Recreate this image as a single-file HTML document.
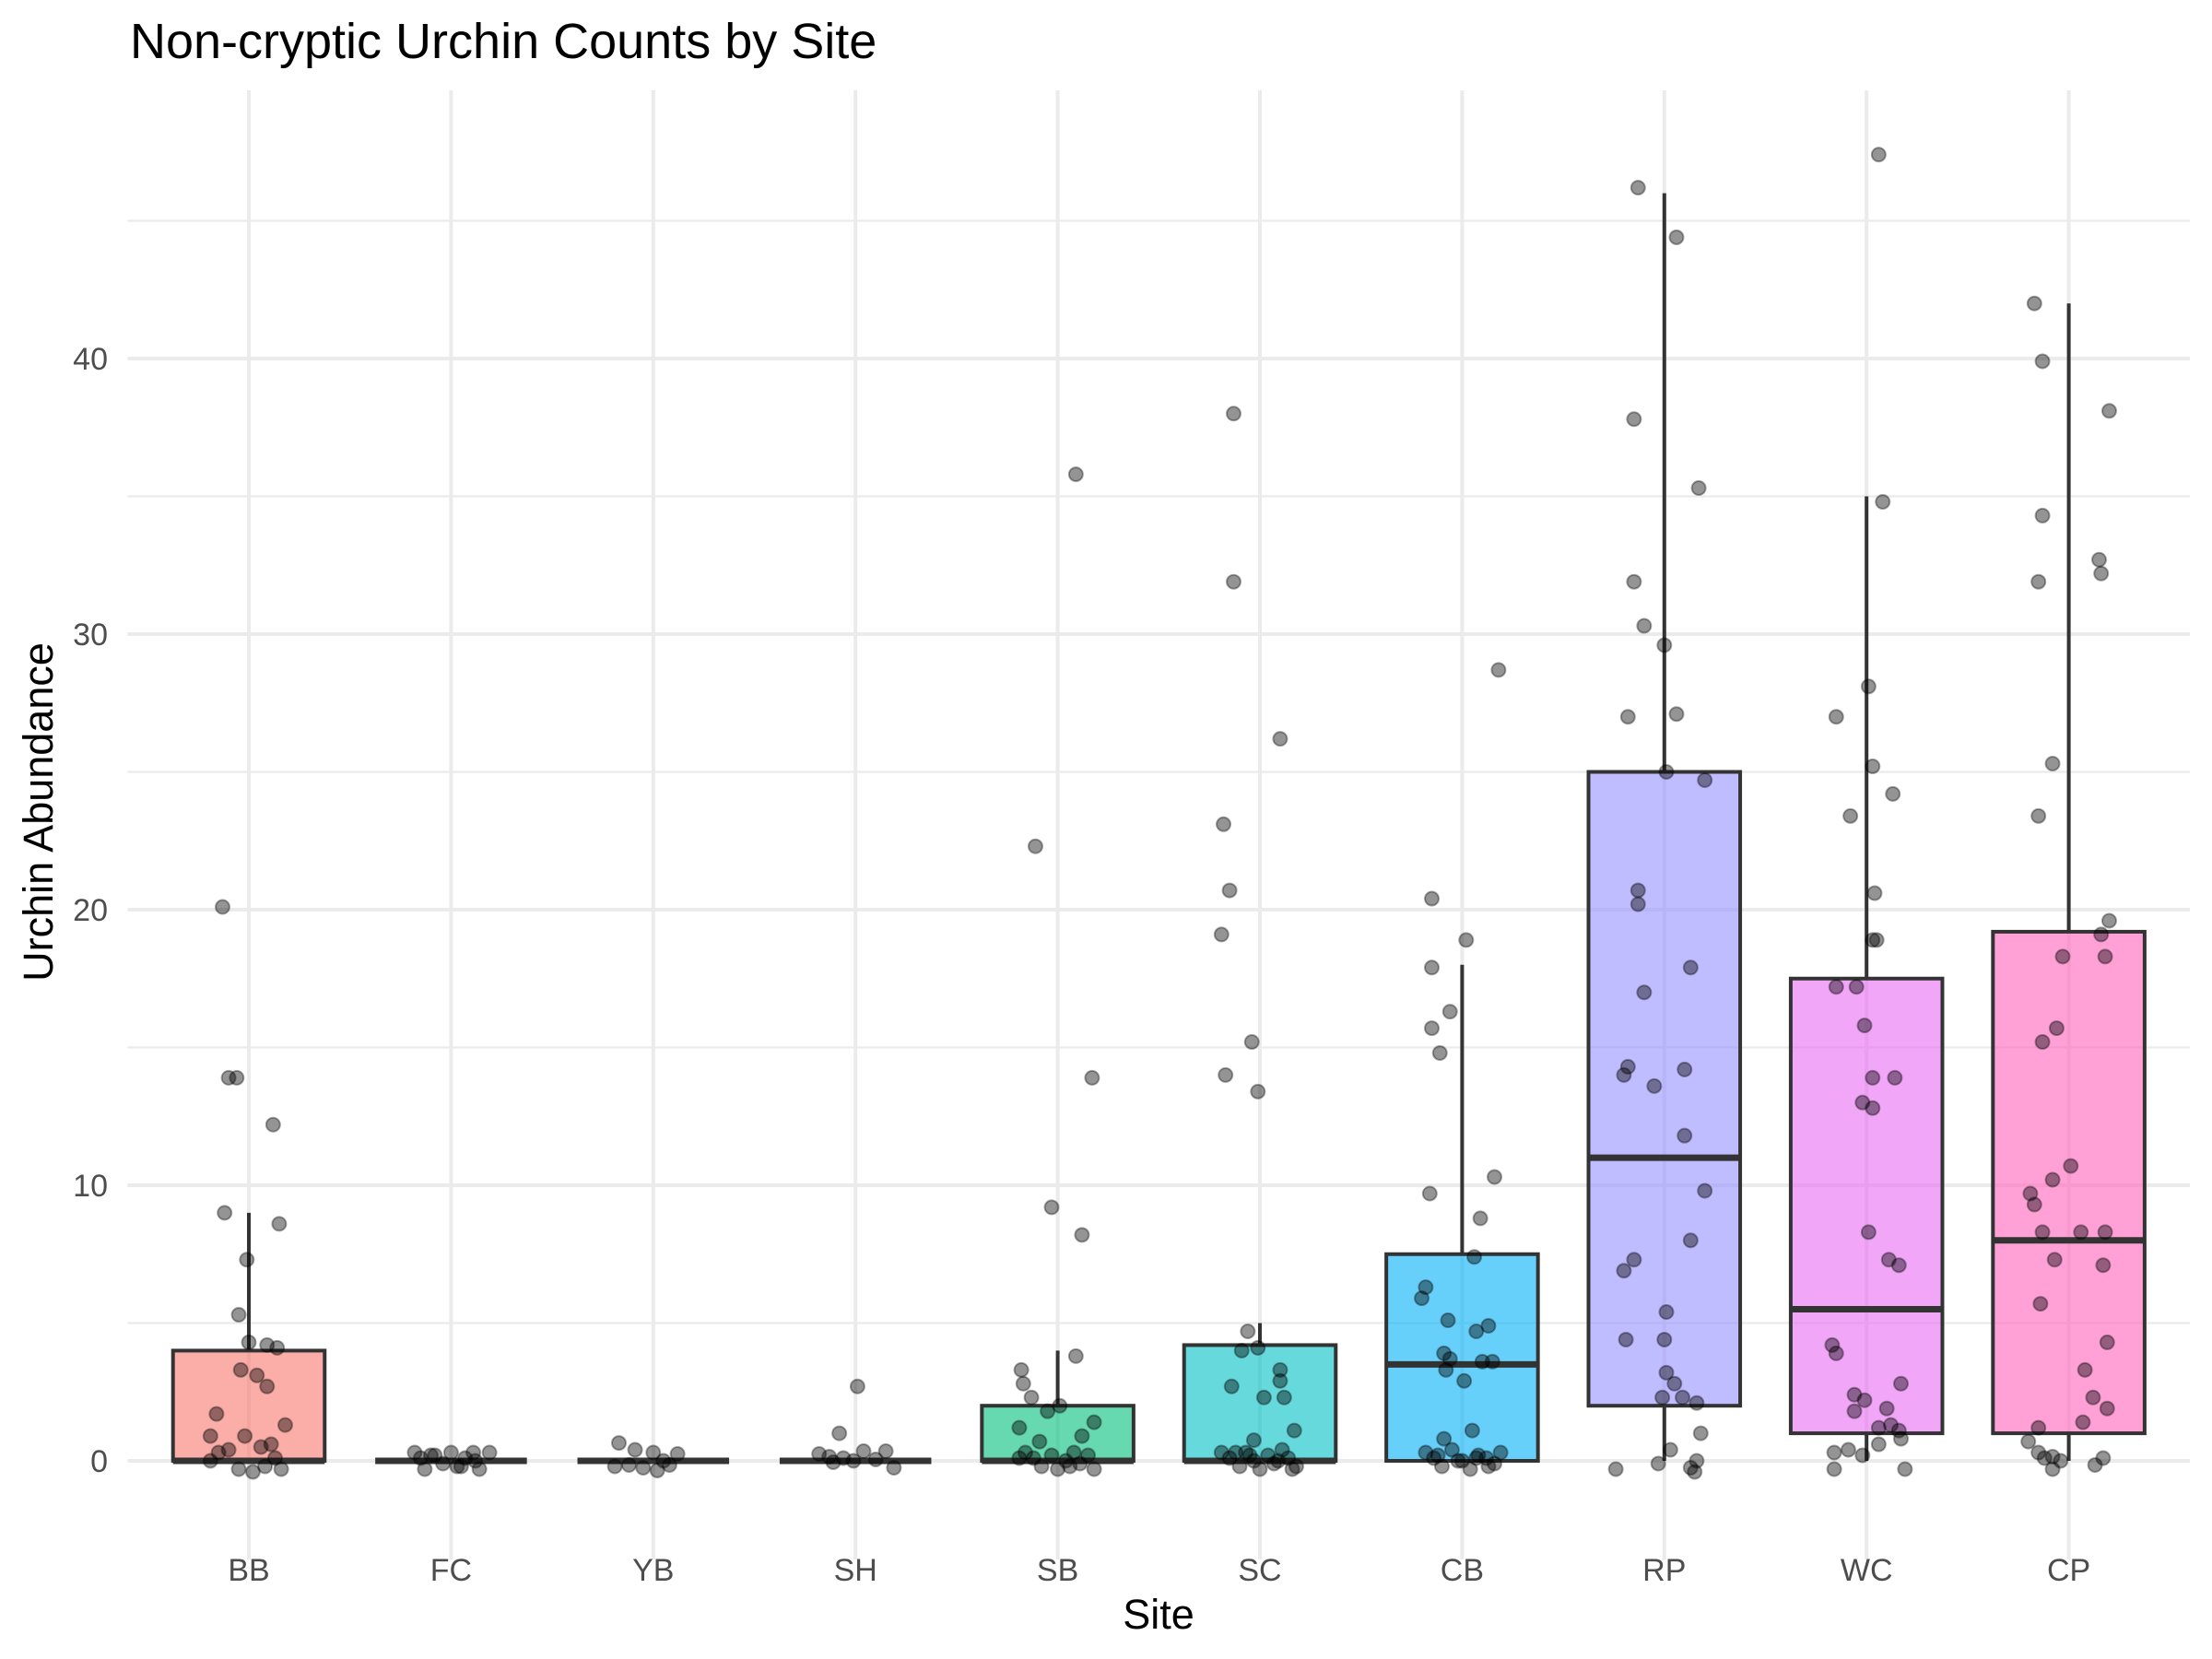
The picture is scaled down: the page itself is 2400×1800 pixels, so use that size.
<!DOCTYPE html>
<html><head><meta charset="utf-8"><style>
html,body{margin:0;padding:0;background:#fff;}
svg{display:block;font-family:"Liberation Sans",Arial,sans-serif;}
</style></head><body>
<svg id="chart" width="2400" height="1800" viewBox="0 0 2400 1800" xmlns="http://www.w3.org/2000/svg">
<rect x="0" y="0" width="2400" height="1800" fill="#fff"/>
<g id="grid"></g>
<g id="yticks"></g>
<g id="xticks"></g>
<g id="boxes"></g>
<g id="points"></g>
<text x="141" y="63" font-size="54" fill="#000">Non-cryptic Urchin Counts by Site</text>
<text x="1257" y="1767" font-size="45" text-anchor="middle" fill="#000">Site</text>
<text x="57" y="881" font-size="45" text-anchor="middle" fill="#000" transform="rotate(-90 57 881)">Urchin Abundance</text>
</svg>
<script>
const sites = ["BB","FC","YB","SH","SB","SC","CB","RP","WC","CP"];
const colors = ["#F8766D","#D89000","#A3A500","#39B600","#00BF7D","#00BFC4","#00B0F6","#9590FF","#E76BF3","#FF62BC"];
const q1 = [0,0,0,0,0,0,0,2,1,1];
const med = [0,0,0,0,0,0,3.5,11,5.5,8];
const q3 = [4,0,0,0,2,4.2,7.5,25,17.5,19.2];
const whiskLo = [0,0,0,0,0,0,0,0,0,0];
const whiskHi = [9,0,0,0,4,5,18,46,35,42];
const yTicks = [0,10,20,30,40];
const yMinor = [5,15,25,35,45];

const valsBB = [20.1,13.9,13.9,12.2,9.0,8.6,7.3,5.3,4.3,4.2,4.1,3.3,3.1,2.7,1.7,1.3,0.9,0.9,0.6,0,0.3,0.4,-0.3,-0.4,-0.2,0.1,-0.3,0.5];
const jitBB = [-.13,-.10,-.06,.12,-.12,.15,-.01,-.05,0,.09,.14,-.04,.04,.09,-.16,.18,-.19,-.02,.11,-.19,-.15,-.10,-.05,.02,.08,.13,.16,.06];
const valsFC = [0.3,-0.3,0.2,-0.1,0.3,-0.2,0.1,0.3,-0.3,0.3,0.1,-0.2,0,0.2];
const jitFC = [-.18,-.13,-.08,-.04,0,.03,.07,.11,.14,.19,-.15,.05,.12,-.1];
const valsYB = [0.65,0.4,0.3,0,0.25,-0.25,-0.15,-0.2,-0.35,-0.15];
const jitYB = [-.17,-.09,0,.05,.12,-.05,-.12,-.19,.02,.08];
const valsSH = [2.7,1.0,0.25,0.15,0.1,0,0.35,0.05,0.35,-0.25,-0.05];
const jitSH = [.01,-.08,-.18,-.13,-.06,-.01,.04,.10,.15,.19,-.11];
const valsSB = [35.8,22.3,13.9,9.2,8.2,3.8,3.3,2.8,2.3,2.0,1.8,1.4,1.2,0.9,0.7,0.3,0.1,-0.2,0.2,-0.3,0,0.3,-0.1,0.2,-0.3,0.1,-0.2];
const jitSB = [.09,-.11,.17,-.03,.12,.09,-.18,-.17,-.13,.01,-.05,.18,-.19,.12,-.09,-.16,-.12,-.08,-.03,.0,.04,.08,.11,.15,.18,-.19,.06];
const valsSC = [38,31.9,26.2,23.1,20.7,19.1,15.2,14.0,13.4,4.7,4.0,4.1,3.3,2.9,2.7,2.3,2.3,1.1,0.75,0.3,0.1,-0.2,0.3,0,-0.3,0.2,-0.1,0.4,0.1,-0.2,0.3,0,-0.3,0.2];
const jitSC = [-.13,-.13,.10,-.18,-.15,-.19,-.04,-.17,-.01,-.06,-.09,-.01,.10,.10,-.14,.02,.12,.17,-.03,-.19,-.15,-.10,-.07,-.03,.0,.04,.07,.11,.14,.18,-.12,.09,.16,-.05];
const valsCB = [28.7,20.4,18.9,17.9,16.3,15.7,14.8,10.3,8.8,9.7,7.4,6.3,5.9,5.1,4.9,4.7,3.9,3.7,3.6,3.6,3.3,2.9,1.1,0.8,0.3,0.1,-0.2,0.4,0,-0.3,0.2,0.1,-0.1,0.3,0,-0.2,0.2,0.1];
const jitCB = [.18,-.15,.02,-.15,-.06,-.15,-.11,.16,.09,-.16,.06,-.18,-.20,-.07,.13,.07,-.09,-.06,.10,.15,-.08,.01,.05,-.09,-.18,-.14,-.10,-.05,.0,.04,.08,.12,.16,.19,-.02,.13,-.12,.07];
const valsRP = [46.2,44.4,37.8,35.3,31.9,30.3,29.6,27.1,27.0,25.0,24.7,20.7,20.2,17.9,17.0,14.3,14.2,14.0,13.6,11.8,9.8,8.0,7.3,6.9,5.4,4.4,4.4,3.2,2.8,2.3,2.3,2.1,1.0,0.4,0,-0.3,-0.1,-0.4,-0.25];
const jitRP = [-.13,.06,-.15,.17,-.15,-.10,0,.06,-.18,.01,.20,-.13,-.13,.13,-.10,-.18,.10,-.20,-.05,.10,.20,.13,-.15,-.20,.01,-.19,0,.01,.05,.09,-.01,.16,.18,.03,.16,-.24,-.03,.15,.13];
const valsWC = [47.4,34.8,28.1,27.0,25.2,24.2,23.4,20.6,18.9,18.9,17.2,17.2,15.8,13.9,13.9,13.0,12.8,8.3,7.3,7.1,4.2,3.9,2.8,2.4,2.2,1.9,1.8,1.3,1.1,1.2,0.8,0.6,0.3,0.4,0.2,-0.3,-0.3];
const jitWC = [.06,.08,.01,-.15,.03,.13,-.08,.04,.05,.03,-.15,-.05,-.01,.03,.14,-.02,.03,.01,.11,.16,-.17,-.15,.17,-.06,-.01,.10,-.06,.12,.16,.06,.17,.06,-.16,-.09,-.02,-.16,.19];
const valsCP = [42,39.9,38.1,34.3,32.7,32.2,31.9,25.3,23.4,19.6,19.1,18.3,18.3,15.7,15.2,10.7,10.2,9.7,9.3,8.3,8.3,8.3,7.1,7.3,5.7,4.3,3.3,2.3,1.9,1.4,1.2,0.7,0.3,0.1,0.15,0,0.1,-0.15,-0.3];
const jitCP = [-.17,-.13,.20,-.13,.15,.16,-.15,-.08,-.15,.20,.16,-.03,.18,-.06,-.13,.01,-.08,-.19,-.17,-.13,.06,.18,.17,-.07,-.14,.19,.08,.12,.19,.07,-.15,-.20,-.15,-.12,-.08,-.04,.17,.13,-.08];
const siteVals = [valsBB,valsFC,valsYB,valsSH,valsSB,valsSC,valsCB,valsRP,valsWC,valsCP];
const siteJit = [jitBB,jitFC,jitYB,jitSH,jitSB,jitSC,jitCB,jitRP,jitWC,jitCP];

const NS = "http://www.w3.org/2000/svg";
const PL = 138.4, PR = 2376, PT = 98, PB = 1692;
const X0 = 270, XS = 219.4, Y0 = 1585, YS = 29.9;
function xScale(i){ return X0 + i*XS; }
function yScale(v){ return Y0 - v*YS; }
function mk(tag, attrs, parent){ const e=document.createElementNS(NS,tag); for(const k in attrs) e.setAttribute(k,attrs[k]); parent.appendChild(e); return e; }

const grid = document.getElementById('grid');
yMinor.forEach(v=>{
  const l = mk('line',{x1:PL,x2:PR,y1:yScale(v),y2:yScale(v),stroke:'#EBEBEB','stroke-width':2.2},grid);
  
  
});
yTicks.forEach(v=>{
  const l = mk('line',{x1:PL,x2:PR,y1:yScale(v),y2:yScale(v),stroke:'#EBEBEB','stroke-width':4},grid);
  
  
});
sites.forEach((s,i)=>{
  const l = mk('line',{x1:xScale(i),x2:xScale(i),y1:PT,y2:PB,stroke:'#EBEBEB','stroke-width':4},grid);
  
  
});
const yt = document.getElementById('yticks');
yTicks.forEach(v=>{
  const t = mk('text',{x:117,y:yScale(v)+12,'font-size':34,'text-anchor':'end',fill:'#4D4D4D'},yt);
  t.textContent = v;
  
  
});
const xt = document.getElementById('xticks');
sites.forEach((s,i)=>{
  const t = mk('text',{x:xScale(i),y:1715,'font-size':34,'text-anchor':'middle',fill:'#4D4D4D'},xt);
  t.textContent = s;
  
  
});
const bx = document.getElementById('boxes');
const BW = 0.75*XS;
sites.forEach((s,i)=>{
  const g = mk('g',{},bx);
  
  
  const cx = xScale(i);
  if (whiskHi[i] > q3[i]) {
    const w = mk('line',{x1:cx,x2:cx,y1:yScale(q3[i]),y2:yScale(whiskHi[i]),stroke:'#333','stroke-width':4},g);
    
    
  }
  if (whiskLo[i] < q1[i]) {
    const w = mk('line',{x1:cx,x2:cx,y1:yScale(q1[i]),y2:yScale(whiskLo[i]),stroke:'#333','stroke-width':4},g);
    
    
  }
  if (q3[i] > q1[i]) {
    const r = mk('rect',{x:cx-BW/2,y:yScale(q3[i]),width:BW,height:yScale(q1[i])-yScale(q3[i]),fill:colors[i],'fill-opacity':0.6,stroke:'#333','stroke-width':4},g);
    
    
  }
  const m = mk('line',{x1:cx-BW/2,x2:cx+BW/2,y1:yScale(med[i]),y2:yScale(med[i]),stroke:'#333','stroke-width':7},g);
  
  
});
const pts = document.getElementById('points');
siteVals.forEach((vals,i)=>{
  vals.forEach((v,k)=>{
    const c = mk('circle',{cx:xScale(i+siteJit[i][k]),cy:yScale(v),r:7.5,fill:'rgba(0,0,0,0.42)',stroke:'rgba(0,0,0,0.35)','stroke-width':2},pts);
    
    
  });
});
</script>
</body></html>
